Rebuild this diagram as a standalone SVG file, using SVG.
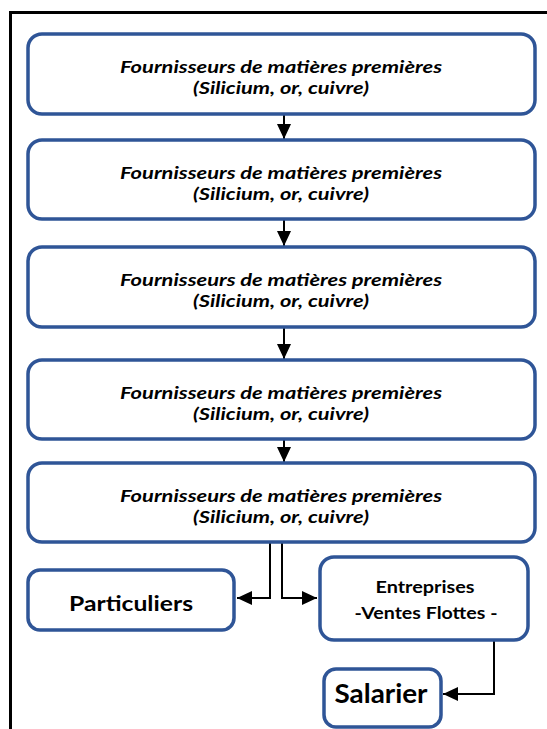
<svg xmlns="http://www.w3.org/2000/svg" width="547" height="729" viewBox="0 0 547 729">
<defs>
<style>
.box{fill:#fff;stroke:#2F5597;stroke-width:3.5}
.t{font-family:Lato,"Open Sans","Liberation Sans",sans-serif;font-weight:bold;fill:#000;text-anchor:middle}
.it{font-style:italic;font-size:17px}
.ln{fill:none;stroke:#000;stroke-width:2}
</style>
<marker id="ah" viewBox="0 0 15 14" refX="15" refY="7" markerWidth="15" markerHeight="14" orient="auto" markerUnits="userSpaceOnUse">
<path d="M0,0 L15,7 L0,14 z" fill="#000"/>
</marker>
</defs>
<rect width="547" height="729" fill="#fff"/>
<path d="M10.5,729 V12.5 H547" fill="none" stroke="#000" stroke-width="3"/>
<g id="connectors">
<line class="ln" x1="284" y1="115" x2="284" y2="139" marker-end="url(#ah)"/>
<line class="ln" x1="284" y1="220" x2="284" y2="246" marker-end="url(#ah)"/>
<line class="ln" x1="284" y1="328" x2="284" y2="359" marker-end="url(#ah)"/>
<line class="ln" x1="284" y1="440" x2="284" y2="462" marker-end="url(#ah)"/>
<polyline class="ln" points="270,543 270,598 237,598" marker-end="url(#ah)"/>
<polyline class="ln" points="282,543 282,598 317,598" marker-end="url(#ah)"/>
<polyline class="ln" points="494,641 494,694 443,694" marker-end="url(#ah)"/>
</g>
<g id="n1"><rect class="box" x="28" y="34" width="507" height="80" rx="14"/>
<text class="t it" x="281" y="73" textLength="322" lengthAdjust="spacingAndGlyphs">Fournisseurs de matières premières</text>
<text class="t it" x="281" y="94" textLength="176" lengthAdjust="spacingAndGlyphs">(Silicium, or, cuivre)</text></g>
<g id="n2"><rect class="box" x="28" y="140" width="507" height="79" rx="14"/>
<text class="t it" x="281" y="179" textLength="322" lengthAdjust="spacingAndGlyphs">Fournisseurs de matières premières</text>
<text class="t it" x="281" y="200" textLength="176" lengthAdjust="spacingAndGlyphs">(Silicium, or, cuivre)</text></g>
<g id="n3"><rect class="box" x="28" y="247" width="507" height="80" rx="14"/>
<text class="t it" x="281" y="286" textLength="322" lengthAdjust="spacingAndGlyphs">Fournisseurs de matières premières</text>
<text class="t it" x="281" y="307" textLength="176" lengthAdjust="spacingAndGlyphs">(Silicium, or, cuivre)</text></g>
<g id="n4"><rect class="box" x="28" y="360" width="507" height="79" rx="14"/>
<text class="t it" x="281" y="399" textLength="322" lengthAdjust="spacingAndGlyphs">Fournisseurs de matières premières</text>
<text class="t it" x="281" y="420" textLength="176" lengthAdjust="spacingAndGlyphs">(Silicium, or, cuivre)</text></g>
<g id="n5"><rect class="box" x="28" y="463" width="507" height="79" rx="14"/>
<text class="t it" x="281" y="502" textLength="322" lengthAdjust="spacingAndGlyphs">Fournisseurs de matières premières</text>
<text class="t it" x="281" y="523" textLength="176" lengthAdjust="spacingAndGlyphs">(Silicium, or, cuivre)</text></g>
<g id="particuliers"><rect class="box" x="28" y="570" width="206" height="60" rx="12"/>
<text class="t" x="131" y="611" font-size="21" textLength="124" lengthAdjust="spacingAndGlyphs">Particuliers</text></g>
<g id="entreprises"><rect class="box" x="320" y="557" width="208" height="83" rx="14"/>
<text class="t" x="425" y="593" font-size="17" textLength="99" lengthAdjust="spacingAndGlyphs">Entreprises</text>
<text class="t" x="426" y="619" font-size="17" textLength="143" lengthAdjust="spacingAndGlyphs">-Ventes Flottes -</text></g>
<g id="salarier"><rect class="box" x="324" y="669" width="117" height="58" rx="12"/>
<text class="t" x="381" y="703" font-size="26" textLength="93" lengthAdjust="spacingAndGlyphs">Salarier</text></g>
</svg>
